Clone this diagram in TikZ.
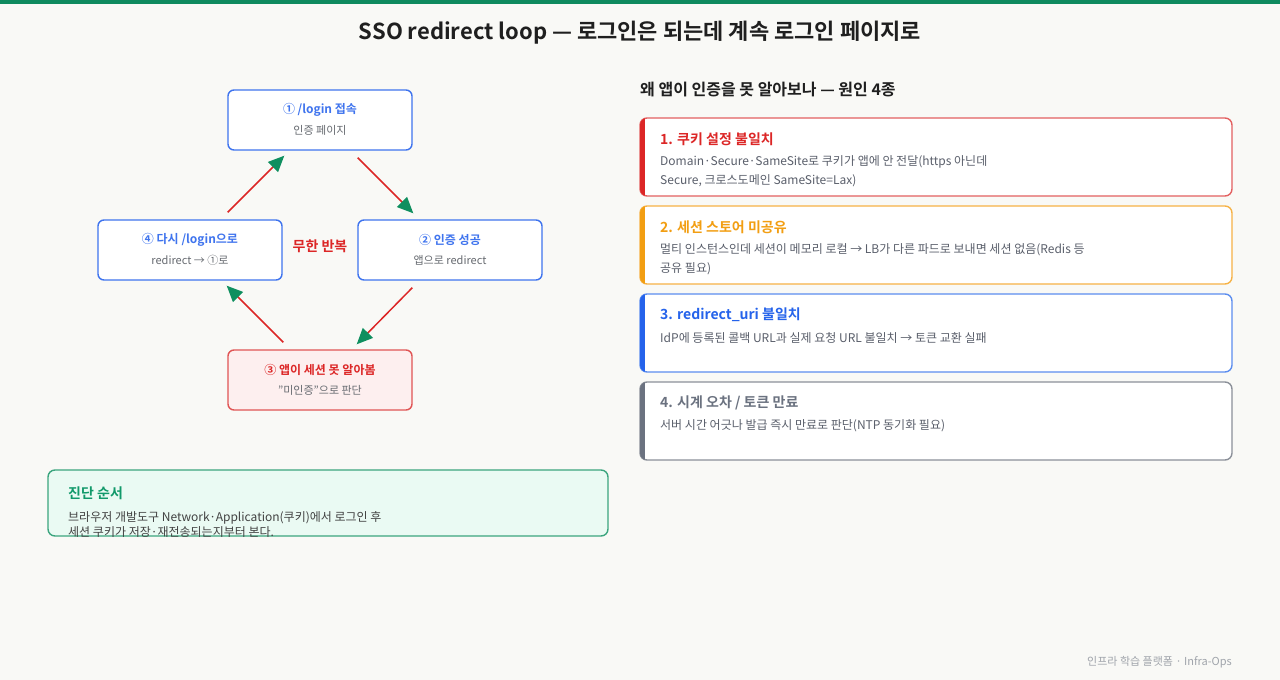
\documentclass[tikz,border=0pt]{standalone}
\usepackage{fontspec}
\setmainfont{Noto Sans CJK KR}[BoldFont={Noto Sans CJK KR Bold}]
\usetikzlibrary{arrows.meta,positioning}

\definecolor{pagebg}{HTML}{F9F9F6}
\definecolor{topgreen}{HTML}{0F8A5F}
\definecolor{inkdark}{HTML}{1F1F1F}
\definecolor{loopblue}{HTML}{3F74EE}
\definecolor{loopred}{HTML}{E05555}
\definecolor{looppink}{HTML}{FDEFEF}
\definecolor{titlered}{HTML}{DC2626}
\definecolor{arrowgreen}{HTML}{0F8F5F}
\definecolor{subgray}{HTML}{666A70}
\definecolor{bodygray}{HTML}{5A5F6B}
\definecolor{diagfill}{HTML}{EAFAF3}
\definecolor{diagline}{HTML}{3BA57E}
\definecolor{diaggreen}{HTML}{11996A}
\definecolor{footgray}{HTML}{A0A4AB}
\definecolor{redline}{HTML}{E36060}
\definecolor{redbar}{HTML}{DC2626}
\definecolor{orangeline}{HTML}{F6B245}
\definecolor{orangebar}{HTML}{F29E12}
\definecolor{blueline}{HTML}{5B8DEF}
\definecolor{bluebar}{HTML}{2563EB}
\definecolor{grayline}{HTML}{8B9099}
\definecolor{graybar}{HTML}{6B7280}

\begin{document}
\begin{tikzpicture}[x=1pt,y=-1pt,
  loopbox/.style={draw=loopblue, line width=1.4pt, rounded corners=6pt, fill=white,
    minimum width=184pt, minimum height=60pt, inner sep=0pt},
  boxtitle/.style={font=\fontsize{12}{14}\selectfont\bfseries, text=loopblue},
  boxsub/.style={font=\fontsize{11}{13}\selectfont, text=subgray},
  looparrow/.style={draw=titlered, line width=1.5pt,
    -{Triangle[length=16pt,width=14pt,color=arrowgreen]}},
  card/.style={draw=#1, line width=1.4pt, rounded corners=7pt, fill=white,
    minimum width=592pt, minimum height=78pt, inner sep=0pt},
  cardtitle/.style={anchor=west, inner sep=0pt, font=\fontsize{14}{16}\selectfont\bfseries, text=#1},
  cardline/.style={anchor=west, inner sep=0pt, font=\fontsize{12}{14}\selectfont, text=bodygray}]

  % page
  \fill[pagebg] (0,0) rectangle (1280,680);
  \useasboundingbox (0,0) rectangle (1280,680);
  \fill[topgreen] (0,0) rectangle (1280,4);

  \node[font=\fontsize{22}{26}\selectfont\bfseries, text=inkdark] (title) at (640,33)
    {SSO redirect loop — 로그인은 되는데 계속 로그인 페이지로};

  % loop
  \node[loopbox] (b1) at (320,120) {};
  \node[boxtitle] (b1t) at ([yshift=10pt]b1.center) {① /login 접속};
  \node[boxsub] (b1s) at ([yshift=-10pt]b1.center) {인증 페이지};

  \node[loopbox] (b2) at (450,250) {};
  \node[boxtitle] (b2t) at ([yshift=10pt]b2.center) {② 인증 성공};
  \node[boxsub] (b2s) at ([yshift=-10pt]b2.center) {앱으로 redirect};

  \node[loopbox, draw=loopred, fill=looppink] (b3) at (320,380) {};
  \node[boxtitle, text=titlered] (b3t) at ([yshift=10pt]b3.center) {③ 앱이 세션 못 알아봄};
  \node[boxsub] (b3s) at ([yshift=-10pt]b3.center) {"미인증"으로 판단};

  \node[loopbox] (b4) at (190,250) {};
  \node[boxtitle] (b4t) at ([yshift=10pt]b4.center) {④ 다시 /login으로};
  \node[boxsub] (b4s) at ([yshift=-10pt]b4.center) {redirect → ①로};

  \node[font=\fontsize{14}{16}\selectfont\bfseries, text=titlered] (endless) at (320,246) {무한 반복};

  \draw[looparrow] ([shift={(-55,7)}]b1.south east) -- ([shift={(56,-6)}]b2.north west);
  \draw[looparrow] ([shift={(55,7)}]b2.south west) -- ([shift={(-56,-5)}]b3.north east);
  \draw[looparrow] ([shift={(56,-7)}]b3.north west) -- ([shift={(-56,5)}]b4.south east);
  \draw[looparrow] ([shift={(-55,-7)}]b4.north east) -- ([shift={(57,5)}]b1.south west);

  % diagnosis
  \node[draw=diagline, line width=1.4pt, rounded corners=7pt, fill=diagfill,
    minimum width=560pt, minimum height=66pt] (diag) at (328,503) {};
  \node[anchor=west, inner sep=0pt, font=\fontsize{14}{16}\selectfont\bfseries, text=diaggreen] (diagt) at (68,493) {진단 순서};
  \node[anchor=west, inner sep=0pt, font=\fontsize{12}{14}\selectfont, text=inkdark!85] (diag1) at (68,518)
    {브라우저 개발도구 Network·Application(쿠키)에서 로그인 후};
  \node[anchor=west, inner sep=0pt, font=\fontsize{12}{14}\selectfont, text=inkdark!85] (diag2) at (68,532)
    {세션 쿠키가 저장·재전송되는지부터 본다.};

  % causes
  \node[anchor=west, inner sep=0pt, font=\fontsize{16}{19}\selectfont\bfseries, text=inkdark] (causes) at (640,90)
    {왜 앱이 인증을 못 알아보나 — 원인 4종};

  \foreach \i/\yy/\cl/\cb/\ttl/\la/\lb in {
    1/118/redline/redbar/{1. 쿠키 설정 불일치}/{Domain·Secure·SameSite로 쿠키가 앱에 안 전달(https 아닌데}/{Secure, 크로스도메인 SameSite=Lax)},
    2/206/orangeline/orangebar/{2. 세션 스토어 미공유}/{멀티 인스턴스인데 세션이 메모리 로컬 → LB가 다른 파드로 보내면 세션 없음(Redis 등}/{공유 필요)},
    3/294/blueline/bluebar/{3. redirect\_uri 불일치}/{IdP에 등록된 콜백 URL과 실제 요청 URL 불일치 → 토큰 교환 실패}/{},
    4/382/grayline/graybar/{4. 시계 오차 / 토큰 만료}/{서버 시간 어긋나 발급 즉시 만료로 판단(NTP 동기화 필요)}/{}} {
    \node[card=\cl] (c\i) at (936,\yy+39) {};
    \begin{scope}
      \clip[rounded corners=7pt] (640,\yy) rectangle (1232,\yy+78);
      \fill[\cb] (639,\yy-1) rectangle (644.5,\yy+79);
    \end{scope}
    \node[cardtitle=\cb] (c\i t) at (660,\yy+21) {\ttl};
    \node[cardline] (c\i a) at (660,\yy+44) {\la};
    \node[cardline] (c\i b) at (660,\yy+63) {\lb};
  }

  \node[anchor=east, inner sep=0pt, font=\fontsize{11}{13}\selectfont, text=footgray] (foot) at (1232,662)
    {인프라 학습 플랫폼 · Infra-Ops};
\end{tikzpicture}
\end{document}
